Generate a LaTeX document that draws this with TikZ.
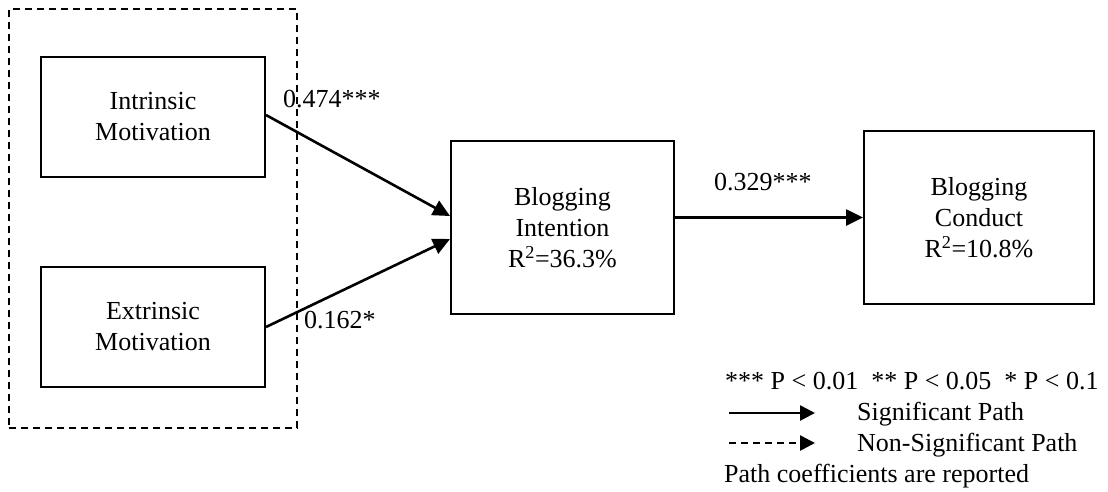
\documentclass[tikz,border=0pt]{standalone}
\usepackage{fontspec}
\setmainfont{Liberation Serif}
\usetikzlibrary{arrows.meta,calc}

\tikzset{
  txt/.style={font=\fontsize{26}{31}\selectfont},
  construct/.style={draw, line width=2pt, rectangle, align=center, txt, inner sep=0pt},
  path arrow/.style={line width=2.6pt, -{Triangle[length=17pt,width=16pt]}},
  key arrow/.style={line width=2.6pt, -{Triangle[length=15pt,width=15pt]}},
  coef/.style={txt, anchor=base west, inner sep=0pt},
  legend/.style={txt, anchor=base west, inner sep=0pt},
}

\begin{document}
\begin{tikzpicture}[x=1pt, y=-1pt]
  \useasboundingbox (0,0) rectangle (1108,491);

  % grouping of the two motivation constructs
  \node[draw, line width=2pt, dash pattern=on 7pt off 5pt, inner sep=0pt,
        minimum width=288pt, minimum height=419pt] (grp) at (153,218.5) {};

  % constructs
  \node[construct, minimum width=224pt, minimum height=120pt] (im) at (153,117)
    {Intrinsic\\Motivation};
  \node[construct, minimum width=224pt, minimum height=120pt] (em) at (153,327)
    {Extrinsic\\Motivation};
  \node[construct, minimum width=223pt, minimum height=173pt] (bi) at (562.5,227.5)
    {Blogging\\Intention\\R\textsuperscript{2}=36.3\%};
  \node[construct, minimum width=230pt, minimum height=173pt] (bc) at (979,217.5)
    {Blogging\\Conduct\\R\textsuperscript{2}=10.8\%};

  % structural paths
  \draw[path arrow] ($(im.east)+(0,-2)$) -- ($(bi.west)+(0,-11.5)$);
  \draw[path arrow] (em.east) -- ($(bi.west)+(0,11.5)$);
  \draw[path arrow] (bi.east |- bc.west) -- (bc.west);

  % path coefficients
  \node[coef] (c1) at (283,107) {0.474***};
  \node[coef] (c2) at (304,328) {0.162*};
  \node[coef] (c3) at (714,190) {0.329***};

  % key
  \node[legend] (k1) at (725,389) {*** P < 0.01\ \ ** P < 0.05\ \ * P < 0.1};
  \coordinate (s1) at (729,413);
  \coordinate (s2) at (815,413);
  \coordinate (n1) at (729,443);
  \coordinate (n2) at (815,443);
  \draw[key arrow] (s1) -- (s2);
  \draw[key arrow, dash pattern=on 7pt off 5pt] (n1) -- (n2);
  \node[legend] (k2) at (857,420) {Significant Path};
  \node[legend] (k3) at (857,451) {Non-Significant Path};
  \node[legend] (k4) at (724,482) {Path coefficients are reported};
\end{tikzpicture}
\end{document}
